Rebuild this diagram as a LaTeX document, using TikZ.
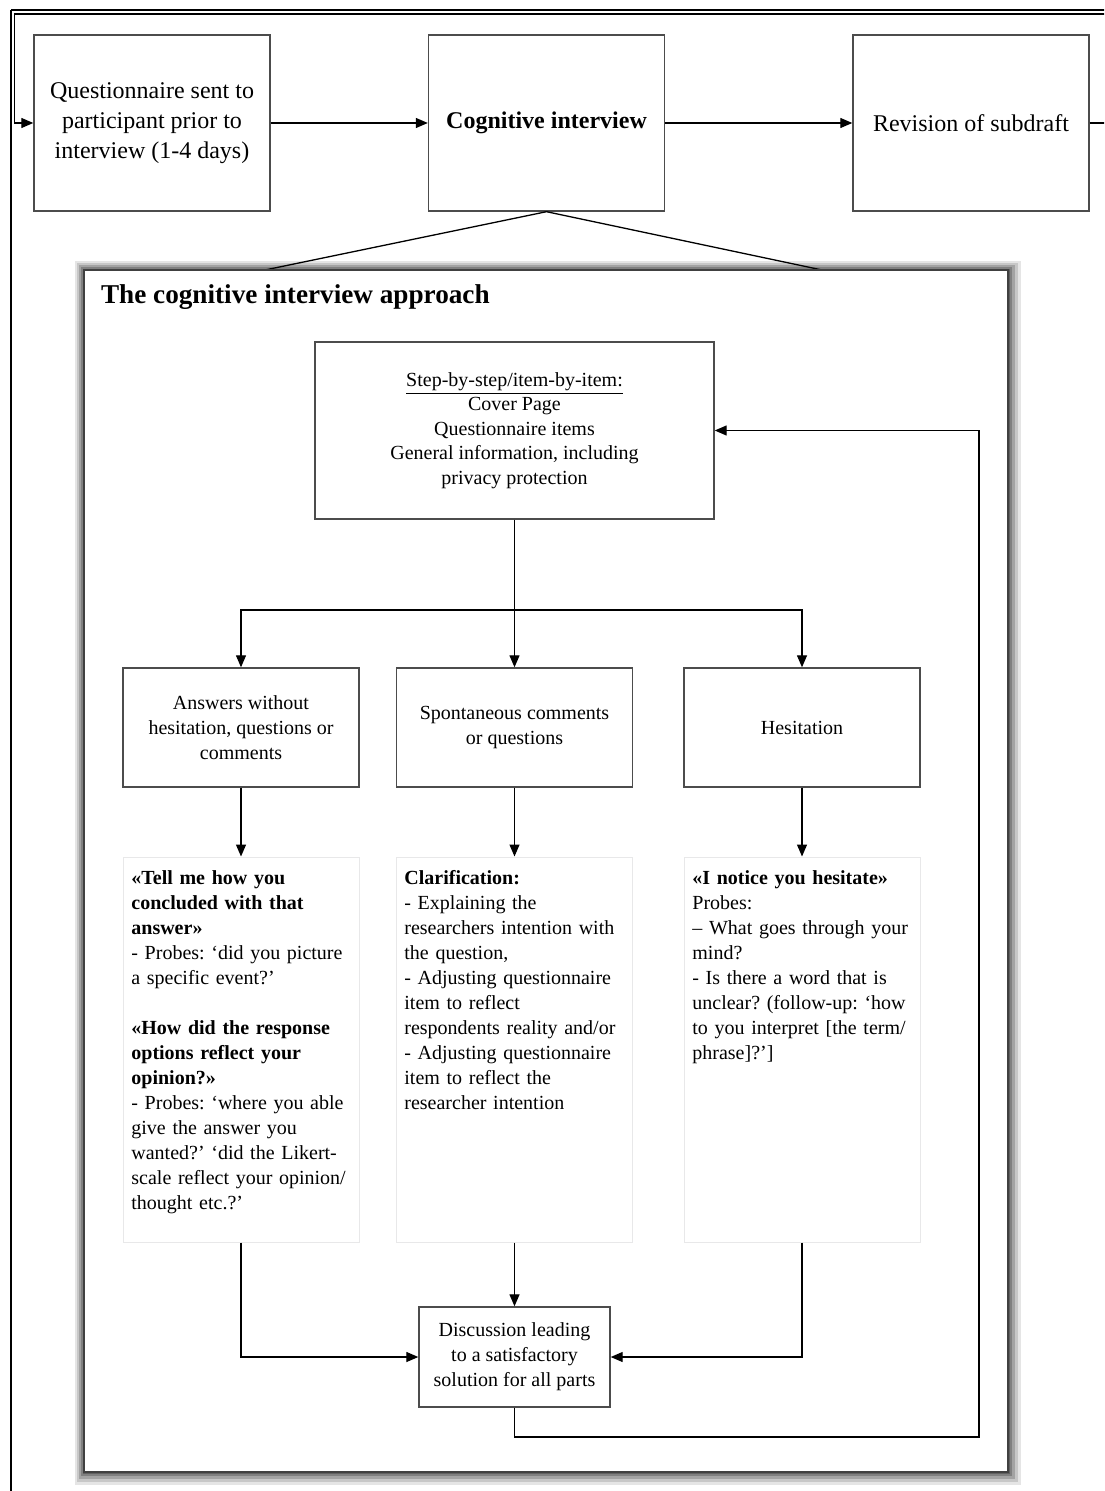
\documentclass[tikz,border=0pt]{standalone}
\usepackage{fontspec}
\setmainfont{Liberation Serif}
\usetikzlibrary{arrows.meta}
\tikzstyle{flowbox}=[rectangle, draw=black!70, line width=0.7pt, fill=white, align=center, inner sep=2pt, minimum width=118pt, minimum height=88pt, font=\fontsize{12}{15}\selectfont]
\tikzstyle{smallbox}=[flowbox, minimum height=59.5pt, font=\fontsize{10}{12.5}\selectfont]
\tikzstyle{textblock}=[rectangle, draw=blue!6!black!9, line width=0.5pt, minimum width=118pt, minimum height=192.5pt]
\tikzstyle{blocktext}=[anchor=north west, align=left, inner sep=0pt, text width=116pt, font=\fontsize{10}{12.5}\selectfont]
\tikzstyle{conn}=[line width=0.65pt, -{Triangle[length=6pt,width=5pt]}]

\begin{document}
\frenchspacing
\begin{tikzpicture}[x=0.5pt, y=-0.5pt]
    \useasboundingbox (0,0) rectangle (1104,1491);
    \clip (0,0) rectangle (1104,1491);
    % page frame
    \coordinate (fr1) at (11,1500);
    \coordinate (fr2) at (11,10);
    \coordinate (fr3) at (1110,10);
    \draw[line width=1.2pt] (fr1) -- (fr2);
    \draw[line width=0.6pt] (fr2) -- (fr3);
    % top row
    \node[flowbox] (q) at (152,123) {Questionnaire sent to\\participant prior to\\interview (1-4 days)};
    \node[flowbox, font=\bfseries\fontsize{12}{15}\selectfont] (ci) at (546.5,123) {Cognitive interview};
    \node[flowbox] (rev) at (971,123) {Revision of subdraft};
    \coordinate (loopR) at (1115,14);
    \coordinate (loopL) at (14.5,14);
    \draw[conn] (q) -- (ci);
    \draw[conn] (ci) -- (rev);
    \draw[conn] (rev.east) -| (loopR) -- (loopL) |- (q.west);
    % the approach frame
    \foreach \d/\c in {13/10,10/22,7/36,4/50,2/62}
        \fill[black!\c] (84-\d*0.7,270-\d*0.7) rectangle (1008+\d,1472+\d);
    \coordinate (wl) at (265,270);
    \coordinate (wr) at (822,270);
    \draw[line width=0.65pt] (wl) -- (ci.south) -- (wr);
    \node[rectangle, draw=black!75, line width=1pt, fill=white, minimum width=462pt, minimum height=601pt] (appr) at (546,871) {};
    \node[anchor=west, font=\bfseries\fontsize{13.6}{16}\selectfont] (title) at (94,297) {The cognitive interview approach};
    % item by item
    \node[flowbox, minimum width=199.5pt, minimum height=88.5pt, font=\fontsize{10}{12.3}\selectfont] (step) at (514.5,430.5)
        {\underline{Step-by-step/item-by-item:}\\Cover Page\\Questionnaire items\\General information, including\\privacy protection};
    \node[smallbox] (ans) at (241,727.5) {Answers without\\hesitation, questions or\\comments};
    \node[smallbox] (spon) at (514.5,727.5) {Spontaneous comments\\or questions};
    \node[smallbox] (hes) at (802,727.5) {Hesitation};
    \coordinate (br) at (514.5,610);
    \draw[conn] (step) -- (spon);
    \draw[conn] (br) -| (ans);
    \draw[conn] (br) -| (hes);
    % probes
    \node[textblock] (tl) at (241,1049.5) {};
    \node[textblock] (tm) at (514.5,1049.5) {};
    \node[textblock] (tr) at (802,1049.5) {};
    \node[blocktext] (tlt) at (131,870) {\textbf{«Tell me how you}\\\textbf{concluded with that}\\\textbf{answer»}\\- Probes: ‘did you picture\\a specific event?’\\[12.5pt]\textbf{«How did the response}\\\textbf{options reflect your}\\\textbf{opinion?»}\\- Probes: ‘where you able\\give the answer you\\wanted?’ ‘did the Likert-\\scale reflect your opinion/\\thought etc.?’};
    \node[blocktext] (tmt) at (404,870) {\textbf{Clarification:}\\- Explaining the\\researchers intention with\\the question,\\- Adjusting questionnaire\\item to reflect\\respondents reality and/or\\- Adjusting questionnaire\\item to reflect the\\researcher intention};
    \node[blocktext] (trt) at (692,870) {\textbf{«I notice you hesitate»}\\Probes:\\– What goes through your\\mind?\\- Is there a word that is\\unclear? (follow-up: ‘how\\to you interpret [the term/\\phrase]?’]};
    \draw[conn] (ans) -- (tl);
    \draw[conn] (spon) -- (tm);
    \draw[conn] (hes) -- (tr);
    % discussion and feedback
    \node[smallbox, minimum width=95.5pt, minimum height=50pt] (disc) at (514.5,1357) {Discussion leading\\to a satisfactory\\solution for all parts};
    \coordinate (fb1) at (514.5,1437);
    \coordinate (fb2) at (979,1437);
    \draw[conn] (tl) |- (disc);
    \draw[conn] (tm) -- (disc);
    \draw[conn] (tr) |- (disc);
    \draw[conn] (disc) -- (fb1) -- (fb2) |- (step);
\end{tikzpicture}
\end{document}
